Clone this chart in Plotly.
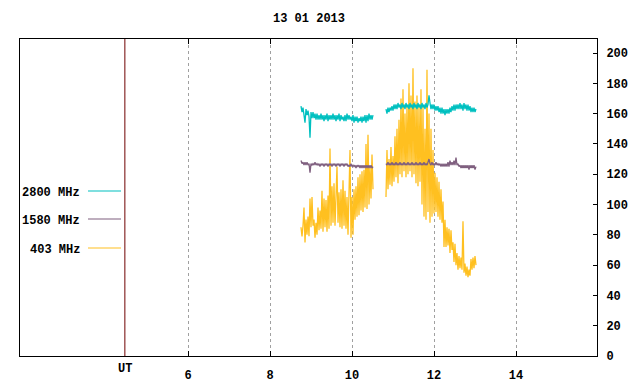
import plotly.graph_objects as go

# ---------------- data ----------------
title_text = "13 01 2013"
series_names = ["2800 MHz", "1580 MHz", "403 MHz"]
series_colors = ["#00c0c0", "#7f5f7f", "#ffc020"]

x_tick_vals = [6, 8, 10, 12, 14]
x_tick_text = ["6", "8", "10", "12", "14"]
ut_position = 4.46          # hour position of the "UT" marker line
y_tick_vals = [0, 20, 40, 60, 80, 100, 120, 140, 160, 180, 200]

# two observing segments; samples every ~1.46 minutes (one screen pixel)
seg_start = [8.756, 10.829]     # UT hours
sample_step = 1.0 / 41.0        # hours between samples

flux_2800_a = [165, 161, 164, 160, 154, 163, 159, 162, 158, 144,
               161, 157, 161, 157, 160, 156, 160, 156, 159, 156,
               160, 156, 159, 155, 159, 156, 160, 155, 159, 156,
               159, 156, 160, 156, 159, 155, 159, 156, 160, 155,
               159, 156, 158, 155, 159, 155, 160, 156, 159, 156,
               158, 155, 159, 154, 158, 155, 158, 154, 157, 155,
               158, 154, 158, 155, 159, 154, 159, 155, 160, 156,
               159, 156, 159]
flux_2800_b = [163, 160, 164, 161, 164, 162, 165, 162, 166, 163,
               166, 163, 167, 164, 166, 163, 167, 164, 166, 163,
               167, 164, 166, 163, 167, 164, 166, 163, 167, 164,
               166, 163, 167, 164, 166, 163, 167, 164, 166, 163,
               167, 164, 166, 172, 167, 163, 166, 163, 166, 162,
               165, 162, 165, 161, 164, 160, 164, 160, 163, 159,
               163, 160, 163, 160, 164, 161, 165, 162, 166, 162,
               166, 163, 166, 163, 167, 163, 166, 162, 167, 163,
               166, 162, 166, 162, 165, 161, 164, 161, 164, 161,
               163]

flux_1580_a = [129, 127, 128, 126, 128, 126, 128, 126, 127, 121,
               127, 126, 127, 126, 128, 126, 127, 126, 127, 125,
               127, 126, 127, 125, 127, 126, 127, 125, 127, 126,
               127, 125, 127, 126, 127, 125, 127, 126, 127, 125,
               127, 126, 127, 125, 127, 126, 127, 125, 126, 125,
               127, 125, 126, 125, 126, 124, 126, 125, 126, 124,
               126, 124, 126, 124, 126, 124, 126, 124, 126, 124,
               126, 124, 125]
flux_1580_b = [127, 126, 128, 126, 127, 126, 128, 126, 127, 126,
               128, 126, 127, 126, 128, 126, 127, 126, 128, 126,
               127, 126, 128, 126, 127, 126, 128, 126, 127, 126,
               128, 126, 127, 126, 128, 126, 127, 126, 128, 126,
               127, 126, 128, 130, 127, 126, 128, 126, 127, 126,
               128, 126, 127, 126, 127, 125, 127, 125, 127, 125,
               127, 125, 128, 125, 129, 126, 128, 126, 129, 126,
               131, 126, 127, 125, 126, 124, 126, 124, 126, 124,
               126, 124, 126, 123, 126, 124, 126, 124, 126, 123,
               125]

flux_403_a = [85, 79, 86, 98, 75, 90, 80, 92, 79, 104,
              85, 105, 86, 90, 78, 88, 80, 98, 83, 96,
              84, 109, 82, 104, 85, 103, 82, 106, 84, 137,
              86, 112, 88, 114, 86, 110, 125, 88, 108, 85,
              110, 84, 116, 86, 109, 84, 105, 80, 102, 136,
              78, 105, 80, 110, 90, 112, 92, 118, 93, 120,
              96, 122, 95, 123, 98, 140, 97, 146, 100, 125,
              104, 133, 110]
flux_403_b = [105, 136, 110, 130, 113, 138, 112, 132, 115, 145,
              118, 150, 114, 156, 120, 170, 118, 176, 122, 160,
              118, 165, 120, 180, 122, 172, 118, 190, 120, 168,
              114, 172, 112, 166, 115, 176, 100, 165, 92, 150,
              90, 189, 95, 160, 88, 150, 92, 136, 94, 121,
              95, 118, 92, 115, 90, 110, 88, 102, 72, 90,
              72, 85, 73, 84, 68, 83, 70, 75, 62, 74,
              60, 68, 57, 66, 58, 65, 57, 89, 55, 61,
              53, 59, 52, 57, 53, 64, 57, 65, 58, 66,
              60]


def join_segments(seg_a, seg_b):
    xs, ys = [], []
    for start, seg in zip(seg_start, (seg_a, seg_b)):
        xs += [start + i * sample_step for i in range(len(seg))]
        ys += list(seg)
        xs.append(None)
        ys.append(None)
    return xs, ys


series_data = {
    "2800 MHz": join_segments(flux_2800_a, flux_2800_b),
    "1580 MHz": join_segments(flux_1580_a, flux_1580_b),
    "403 MHz": join_segments(flux_403_a, flux_403_b),
}

# ---------------- figure ----------------
W, H = 640, 384
ML, MR, MT, MB = 20, 43, 39, 28
FONT = "Liberation Mono"

fig = go.Figure()
# draw 403 first so the other two sit on top of it
for name in ["403 MHz", "1580 MHz", "2800 MHz"]:
    xs, ys = series_data[name]
    color = series_colors[series_names.index(name)]
    fig.add_trace(go.Scatter(x=xs, y=ys, mode="lines", name=name,
                             line=dict(color=color, width=1.3),
                             connectgaps=False, showlegend=False,
                             hoverinfo="skip"))

# UT marker line
fig.add_shape(type="line", xref="x", yref="paper", x0=ut_position, x1=ut_position,
              y0=0, y1=1, line=dict(color="#700000", width=1), layer="above")

pw = W - ML - MR
ph = H - MT - MB

# title
fig.add_annotation(text=title_text, xref="paper", yref="paper",
                   x=(308.5 - ML) / pw, y=1 + (MT - 19.5) / ph,
                   showarrow=False, xanchor="center", yanchor="middle",
                   font=dict(family=FONT, size=12, color="black", weight="bold"))

# UT label
fig.add_annotation(text="UT", xref="x", yref="paper", x=ut_position,
                   y=-(369 - 356) / ph, showarrow=False,
                   xanchor="center", yanchor="middle",
                   font=dict(family=FONT, size=12, color="black", weight="bold"))

# manual key (text left, line sample right), like gnuplot
key_rows_y = [191, 219, 248]
for name, color, yy in zip(series_names, series_colors, key_rows_y):
    yp = 1 - (yy - MT) / ph
    fig.add_annotation(text=name, xref="paper", yref="paper",
                       x=(82 - ML) / pw, y=1 - (yy + 1.5 - MT) / ph, showarrow=False,
                       xanchor="right", yanchor="middle",
                       font=dict(family=FONT, size=12, color="black", weight="bold"))
    fig.add_shape(type="line", xref="paper", yref="paper",
                  x0=(88 - ML) / pw, x1=(121 - ML) / pw, y0=yp, y1=yp,
                  line=dict(color=color, width=1.2))

x_lo = 6 - (188 - ML) / 41.0
x_hi = 6 + (W - MR - 188) / 41.0

fig.update_layout(
    width=W, height=H,
    margin=dict(l=ML, r=MR, t=MT, b=MB, pad=0, autoexpand=False),
    paper_bgcolor="white", plot_bgcolor="white",
    showlegend=False,
    font=dict(family=FONT, size=12, color="black"),
    xaxis=dict(range=[x_lo, x_hi], tickvals=x_tick_vals, ticktext=x_tick_text,
               ticks="inside", ticklen=5, tickcolor="black", automargin=False,
               showline=True, linecolor="black", linewidth=1, mirror="ticks",
               showgrid=True, gridcolor="#a0a0a0", gridwidth=1, griddash="3px,3px",
               zeroline=False, ticklabelstandoff=8,
               tickfont=dict(family=FONT, size=12, color="black", weight="bold")),
    yaxis=dict(range=[0, (356 - 39) / 1.515], tickvals=y_tick_vals, side="right",
               ticks="inside", ticklen=4, tickcolor="black", automargin=False,
               showline=True, linecolor="black", linewidth=1, mirror=True,
               showgrid=False, zeroline=False, ticklabelstandoff=6,
               tickfont=dict(family=FONT, size=12, color="black", weight="bold")),
)

fig.write_html("out.html",
               config={"displayModeBar": False},
               post_script="document.body.style.margin='0';"
                           "document.body.style.padding='0';")
